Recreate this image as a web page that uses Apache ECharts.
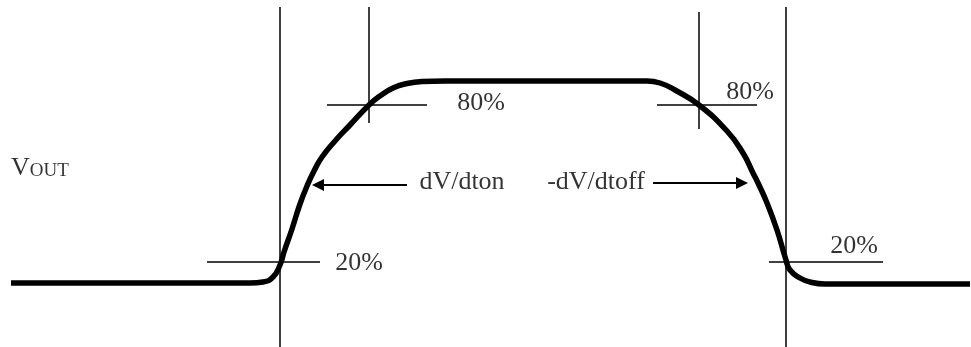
<!DOCTYPE html>
<html>
<head>
<meta charset="utf-8">
<title>Vout dV/dt</title>
<script src="https://cdn.jsdelivr.net/npm/echarts@6/dist/echarts.min.js"></script>
<style>
    html, body {margin: 0; padding: 0; background: #fff;}
    #chart {width: 971px; height: 347px;}
</style>
</head>
<body>
<div id="chart"></div>
<script>
// time (x) / level (y) of the output waveform, units
var voutTime = [11, 250, 263, 273, 280, 284, 292, 300, 307, 314, 322, 335, 350, 369, 380, 393, 407, 422, 445,
    647, 660, 675, 699, 727, 743, 753, 758, 767, 777, 786, 790, 800, 810, 825, 970];
var voutLevel = [64, 64, 65, 70, 82, 95, 118, 143, 161, 176, 190, 206, 222, 242, 251, 259, 263.5, 265.5, 266,
    266, 264, 257, 242, 216, 194, 174, 164, 144, 117, 87, 77, 69, 65, 63, 63];

// thin guide lines [x1, y1, x2, y2]
var guideLines = [
    [280, 340, 280, 0],     // t on
    [369, 340, 369, 224],   // 80% on
    [327, 242, 427, 242],
    [207, 85, 320, 85],     // 20% on
    [699, 335, 699, 218],   // 80% off
    [657, 242, 757, 242],
    [786, 340, 786, 0],     // t off
    [769, 85, 883, 85]      // 20% off
];

// arrows [xFrom, yFrom, xTo, yTo]
var arrowLines = [
    [407, 162, 318, 162],
    [653, 164, 742, 164]
];

// text labels
var labelText = ['80%', '80%', '20%', '20%', 'dV/dton', '-dV/dtoff'];
var labelX = [481, 750, 359, 854, 462, 596];
var labelY = [244, 255, 84, 101, 165, 165];

var myChart = echarts.init(document.getElementById('chart'));

var curveData = voutTime.map(function (t, i) {
    return [t, voutLevel[i]];
});
var labelData = labelText.map(function (s, i) {
    return {name: s, value: [labelX[i], labelY[i]]};
});
labelData.push({
    name: 'VOUT',
    value: [11, 181],
    label: {
        position: 'right',
        distance: 0,
        formatter: '{v|V}{s|OUT}'
    }
});

myChart.setOption({
    animation: false,
    backgroundColor: '#fff',
    grid: {
        left: 0,
        right: 0,
        top: 0,
        bottom: 0
    },
    xAxis: {
        type: 'value',
        min: 0,
        max: 971,
        show: false
    },
    yAxis: {
        type: 'value',
        min: 0,
        max: 347,
        show: false
    },
    series: [
        {
            type: 'lines',
            coordinateSystem: 'cartesian2d',
            symbol: 'none',
            lineStyle: {
                color: '#000',
                width: 1.5,
                opacity: 1
            },
            data: guideLines.map(function (g) {
                return {coords: [[g[0], g[1]], [g[2], g[3]]]};
            })
        },
        {
            type: 'lines',
            coordinateSystem: 'cartesian2d',
            symbol: ['none', 'triangle'],
            symbolSize: [9, 12],
            lineStyle: {
                color: '#000',
                width: 2,
                opacity: 1
            },
            data: arrowLines.map(function (a) {
                return {coords: [[a[0], a[1]], [a[2], a[3]]]};
            })
        },
        {
            type: 'line',
            smooth: 0.5,
            symbol: 'none',
            lineStyle: {
                color: '#000',
                width: 5.5
            },
            data: curveData,
            z: 3
        },
        {
            type: 'scatter',
            symbolSize: 0,
            silent: true,
            label: {
                show: true,
                position: 'inside',
                formatter: '{b}',
                color: '#000',
                textBorderWidth: 0,
                fontFamily: 'Liberation Serif',
                fontSize: 26,
                rich: {
                    v: {
                        fontFamily: 'Liberation Serif',
                        fontSize: 26,
                        color: '#000',
                        lineHeight: 30,
                        verticalAlign: 'bottom'
                    },
                    s: {
                        fontFamily: 'Liberation Serif',
                        fontSize: 19,
                        color: '#000',
                        lineHeight: 30,
                        verticalAlign: 'bottom'
                    }
                }
            },
            data: labelData,
            z: 4
        }
    ]
});
</script>
</body>
</html>
